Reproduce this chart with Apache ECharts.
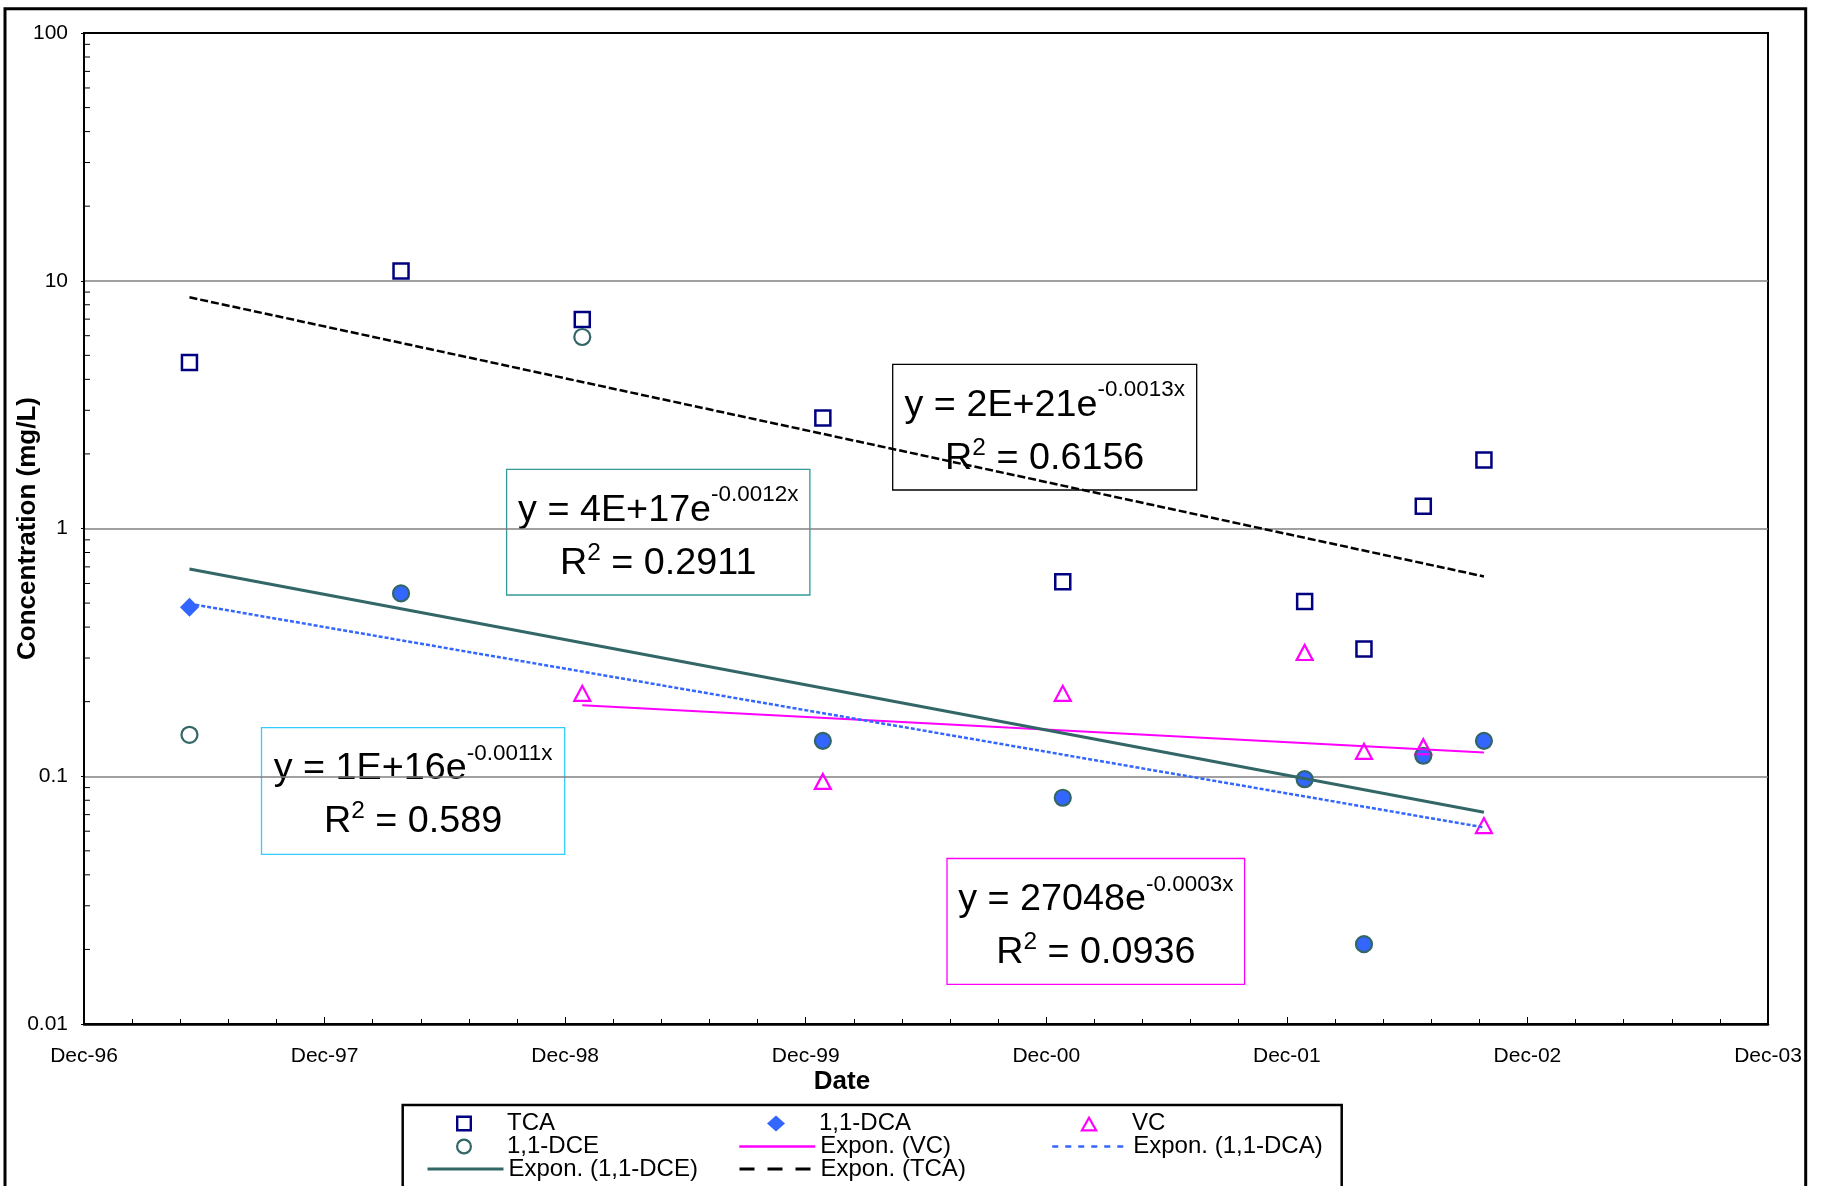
<!DOCTYPE html>
<html><head><meta charset="utf-8">
<script src="https://cdn.jsdelivr.net/npm/echarts@6/dist/echarts.min.js"></script>
<style>html,body{margin:0;padding:0;background:#fff}#chart{width:1822px;height:1186px}</style>
</head><body><div id="chart"></div>
<script>
// ---------- data ----------
const axisOrigin = '1996-12-01';
const xTickLabels = ['Dec-96','Dec-97','Dec-98','Dec-99','Dec-00','Dec-01','Dec-02','Dec-03'];
const yTickLabels = ['0.01','0.1','1','10','100'];

const tcaDates  = ['1997-05-10','1998-03-27','1998-12-27','1999-12-27','2000-12-25','2001-12-27','2002-03-27','2002-06-25','2002-09-25'];
const tcaValues = [4.68, 10.96, 6.97, 2.79, 0.609, 0.507, 0.326, 1.23, 1.89];

const dcaDates  = ['1997-05-10','1998-03-27','1999-12-27','2000-12-25','2001-12-27','2002-03-27','2002-06-25','2002-09-25'];
const dcaValues = [0.481, 0.547, 0.139, 0.0819, 0.0973, 0.0210, 0.121, 0.139];

const dceDates  = ['1997-05-10','1998-03-27','1998-12-27','1999-12-27','2000-12-25','2001-12-27','2002-03-27','2002-06-25','2002-09-25'];
const dceValues = [0.147, 0.547, 5.93, 0.139, 0.0819, 0.0973, 0.0210, 0.121, 0.139];

const vcDates   = ['1998-12-27','1999-12-27','2000-12-25','2001-12-27','2002-03-27','2002-06-25','2002-09-25'];
const vcValues  = [0.216, 0.0953, 0.216, 0.316, 0.126, 0.1316, 0.0632];

// trendline labels (order: TCA, 1,1-DCE, 1,1-DCA, VC)
const eqMain = ['y = 2E+21e', 'y = 4E+17e', 'y = 1E+16e', 'y = 27048e'];
const eqExp  = ['-0.0013x', '-0.0012x', '-0.0011x', '-0.0003x'];
const eqR2   = ['0.6156', '0.2911', '0.589', '0.0936'];

// ---------- helpers ----------
const DAY = 86400000;
const t0 = Date.parse(axisOrigin);
const toDay = d => Math.round((Date.parse(d) - t0) / DAY);
const pts = (dates, vals) => dates.map((d, i) => [toDay(d), vals[i]]);

// least-squares exponential fit (like Excel's "Expon." trendline)
function expTrend(dates, vals) {
  const xs = dates.map(toDay), ys = vals.map(v => Math.log(v));
  const n = xs.length;
  const mx = xs.reduce((a, b) => a + b, 0) / n, my = ys.reduce((a, b) => a + b, 0) / n;
  let sxy = 0, sxx = 0;
  for (let i = 0; i < n; i++) { sxy += (xs[i] - mx) * (ys[i] - my); sxx += (xs[i] - mx) ** 2; }
  const b = sxy / sxx;
  const f = x => Math.exp(my + b * (x - mx));
  const x1 = Math.min(...xs), x2 = Math.max(...xs);
  return [[x1, f(x1)], [x2, f(x2)]];
}

const dcaOverlap = dcaDates.map((d, i) => dceDates.some((e, j) => e === d && dceValues[j] === dcaValues[i]));

const yMinorTicks = [];
[0.01, 0.1, 1, 10].forEach(d => { for (let m = 2; m <= 9; m++) yMinorTicks.push([0, +(d * m).toPrecision(3)]); });

// ---------- styles ----------
const FONT = "'Liberation Sans', Arial, Helvetica, sans-serif";
const C_TCA = '#000080', C_DCA = '#3366FF', C_DCE = '#336666', C_VC = '#FF00FF';

// legend marker icons drawn centred in a 76x16 box
const ANCH = 'M0,8L0.01,8L0,8.01Z M76,8L75.99,8L76,7.99Z ';
const ICON_SQUARE = 'path://' + ANCH + 'M30,0H46V16H30Z M32.4,2.4V13.6H43.6V2.4Z';
const ICON_CIRCLE = 'path://' + ANCH + 'M30,8A8,8 0 1 0 46,8A8,8 0 1 0 30,8Z M32.2,8A5.8,5.8 0 1 1 43.8,8A5.8,5.8 0 1 1 32.2,8Z';
const ICON_TRI    = 'path://' + ANCH + 'M38,0L47,16L29,16Z M38,4.4L32.7,13.8L43.3,13.8Z';
const ICON_DIAM   = 'path://' + ANCH + 'M38,0L47,8L38,16L29,8Z';

const legendCols = [426, 738, 1051];
const legendRows = [1123.5, 1146.5, 1169];
const legendItems = [
  { name: 'TCA', col: 0, row: 0, icon: ICON_SQUARE, color: C_TCA },
  { name: '1,1-DCA', col: 1, row: 0, icon: ICON_DIAM, color: C_DCA },
  { name: 'VC', col: 2, row: 0, icon: ICON_TRI, color: C_VC },
  { name: '1,1-DCE', col: 0, row: 1, icon: ICON_CIRCLE, color: C_DCE },
  { name: 'Expon. (VC)', col: 1, row: 1, line: { width: 2.5 } },
  { name: 'Expon. (1,1-DCA)', col: 2, row: 1, line: { width: 2.5, type: [6, 7] } },
  { name: 'Expon. (1,1-DCE)', col: 0, row: 2, line: { width: 3 } },
  { name: 'Expon. (TCA)', col: 1, row: 2, line: { width: 3, type: [15, 13] } }
];
const legends = legendItems.map(it => {
  const d = { name: it.name };
  if (it.icon) {
    d.icon = it.icon;
    d.itemStyle = { color: it.color, borderWidth: 0, opacity: 1 };
  }
  if (it.line) {
    d.lineStyle = it.line;
    d.itemStyle = { color: 'rgba(0,0,0,0)', borderColor: 'rgba(0,0,0,0)', borderWidth: 0 };
  }
  return {
    data: [d], left: legendCols[it.col], top: legendRows[it.row] - 12,
    orient: 'horizontal', padding: 0, itemGap: 0, itemWidth: 76, itemHeight: 16,
    symbolKeepAspect: false, selectedMode: false,
    textStyle: { fontSize: 24, lineHeight: 24, color: '#000', fontFamily: FONT }
  };
});

const eqBoxes = [
  { x: 892.7, y: 364.3, w: 304, h: 125.7, stroke: '#000000' },
  { x: 506.6, y: 469.4, w: 303.3, h: 125.6, stroke: '#339999' },
  { x: 261.5, y: 727.6, w: 303.2, h: 126.7, stroke: '#33CCFF' },
  { x: 947.0, y: 858.5, w: 297.6, h: 125.8, stroke: '#FF00FF' }
];
const richStyles = {
  m: { fontSize: 37, fontFamily: FONT, fill: '#000', verticalAlign: 'bottom' },
  s: { fontSize: 22, fontFamily: FONT, fill: '#000', verticalAlign: 'bottom', padding: [0, 0, 23, 0] },
  s2: { fontSize: 24, fontFamily: FONT, fill: '#000', verticalAlign: 'bottom', padding: [0, 0, 17, 0] }
};
const eqGraphics = eqBoxes.map((b, i) => ({
  type: 'group', z: 100, silent: true,
  children: [
    { type: 'rect', shape: { x: b.x, y: b.y, width: b.w, height: b.h }, style: { fill: '#fff', stroke: b.stroke, lineWidth: 1.3 } },
    { type: 'text', x: b.x + b.w / 2, y: b.y + 60, scaleX: 1.02,
      style: { x: 0, y: 0, text: '{m|' + eqMain[i] + '}{s|' + eqExp[i] + '}', align: 'center', verticalAlign: 'bottom', rich: richStyles } },
    { type: 'text', x: b.x + b.w / 2, y: b.y + 113, scaleX: 1.02,
      style: { x: 0, y: 0, text: '{m|R}{s2|2}{m| = ' + eqR2[i] + '}', align: 'center', verticalAlign: 'bottom', rich: richStyles } }
  ]
}));

const option = {
  animation: false,
  backgroundColor: '#fff',
  textStyle: { fontFamily: FONT },
  grid: { left: 84, top: 33, right: 54, bottom: 162, show: true, borderColor: '#000', borderWidth: 2, containLabel: false, outerBoundsMode: 'none' },
  legend: legends,
  xAxis: {
    type: 'value', min: 0, max: 2555, interval: 365,
    axisLine: { show: true, onZero: false, lineStyle: { color: '#000', width: 2.5 } },
    axisTick: { show: true, inside: true, length: 7, lineStyle: { color: '#000', width: 1 } },
    minorTick: { show: true, splitNumber: 5, length: 5, lineStyle: { color: '#000', width: 1 } },
    splitLine: { show: false },
    axisLabel: { color: '#000', fontSize: 21, margin: 22, fontFamily: FONT,
      formatter: v => xTickLabels[Math.round(v / 365)] || '' }
  },
  yAxis: {
    type: 'log', logBase: 10, min: 0.01, max: 100,
    name: 'Concentration (mg/L)', nameLocation: 'middle', nameGap: 43, nameMoveOverlap: false,
    nameTextStyle: { fontSize: 26, fontWeight: 'bold', color: '#000', fontFamily: FONT },
    axisLine: { show: true, lineStyle: { color: '#000', width: 2 } },
    axisTick: { show: true, inside: false, length: 3, lineStyle: { color: '#000' } },
    minorTick: { show: false },
    splitLine: { show: true, showMinLine: false, showMaxLine: false, lineStyle: { color: '#808080', width: 1.5 } },
    axisLabel: { color: '#000', fontSize: 21, margin: 16, fontFamily: FONT,
      formatter: v => yTickLabels[Math.round(Math.log10(v)) + 2] || '' }
  },
  graphic: [
    { type: 'rect', silent: true, z: 50, shape: { x: 5, y: 8.7, width: 1800.7, height: 1300 }, style: { fill: 'none', stroke: '#000', lineWidth: 3 } },
    { type: 'rect', silent: true, z: 50, shape: { x: 402.7, y: 1105, width: 939, height: 200 }, style: { fill: 'none', stroke: '#000', lineWidth: 2.5 } },
    { type: 'text', silent: true, z: 50, x: 842, y: 1082,
      style: { text: 'Date', fontSize: 26, fontWeight: 'bold', fontFamily: FONT, fill: '#000', align: 'center', verticalAlign: 'middle' } }
  ].concat(eqGraphics),
  series: [
    { name: 'TCA', type: 'scatter', z: 3, symbol: 'rect', symbolSize: 15,
      itemStyle: { color: 'rgba(0,0,0,0)', borderColor: C_TCA, borderWidth: 2.5, opacity: 1 },
      emphasis: { disabled: true }, data: pts(tcaDates, tcaValues) },
    { name: '1,1-DCA', type: 'scatter', z: 3,
      symbol: (v, p) => dcaOverlap[p.dataIndex] ? 'circle' : 'diamond',
      symbolSize: (v, p) => dcaOverlap[p.dataIndex] ? 16 : 19,
      itemStyle: { color: C_DCA, opacity: 1 },
      emphasis: { disabled: true }, data: pts(dcaDates, dcaValues) },
    { name: 'VC', type: 'scatter', z: 3, symbol: 'triangle', symbolSize: [16, 15],
      itemStyle: { color: 'rgba(0,0,0,0)', borderColor: C_VC, borderWidth: 2.2, opacity: 1 },
      emphasis: { disabled: true }, data: pts(vcDates, vcValues) },
    { name: '1,1-DCE', type: 'scatter', z: 4, symbol: 'circle', symbolSize: 16,
      itemStyle: { color: 'rgba(0,0,0,0)', borderColor: C_DCE, borderWidth: 2.2, opacity: 1 },
      emphasis: { disabled: true }, data: pts(dceDates, dceValues) },
    { name: 'Expon. (VC)', type: 'line', z: 6, symbol: 'none', silent: true,
      lineStyle: { color: C_VC, width: 2 }, data: expTrend(vcDates, vcValues) },
    { name: 'Expon. (1,1-DCA)', type: 'line', z: 6, symbol: 'none', silent: true,
      lineStyle: { color: C_DCA, width: 2.5, type: [4, 2] }, data: expTrend(dcaDates, dcaValues) },
    { name: 'Expon. (1,1-DCE)', type: 'line', z: 6, symbol: 'none', silent: true,
      lineStyle: { color: C_DCE, width: 3 }, data: expTrend(dceDates, dceValues) },
    { name: 'Expon. (TCA)', type: 'line', z: 6, symbol: 'none', silent: true,
      lineStyle: { color: '#000', width: 2.5, type: [8, 3] }, data: expTrend(tcaDates, tcaValues) },
    { name: 'yMinorTicks', type: 'custom', silent: true, z: 10, clip: false,
      data: yMinorTicks,
      renderItem: (params, api) => {
        const p = api.coord([api.value(0), api.value(1)]);
        return { type: 'line', shape: { x1: p[0], y1: p[1], x2: p[0] + 6, y2: p[1] }, style: { stroke: '#000', lineWidth: 1 } };
      } }
  ]
};

const chart = echarts.init(document.getElementById('chart'), null, { renderer: 'canvas' });
chart.setOption(option);
</script>
</body></html>
